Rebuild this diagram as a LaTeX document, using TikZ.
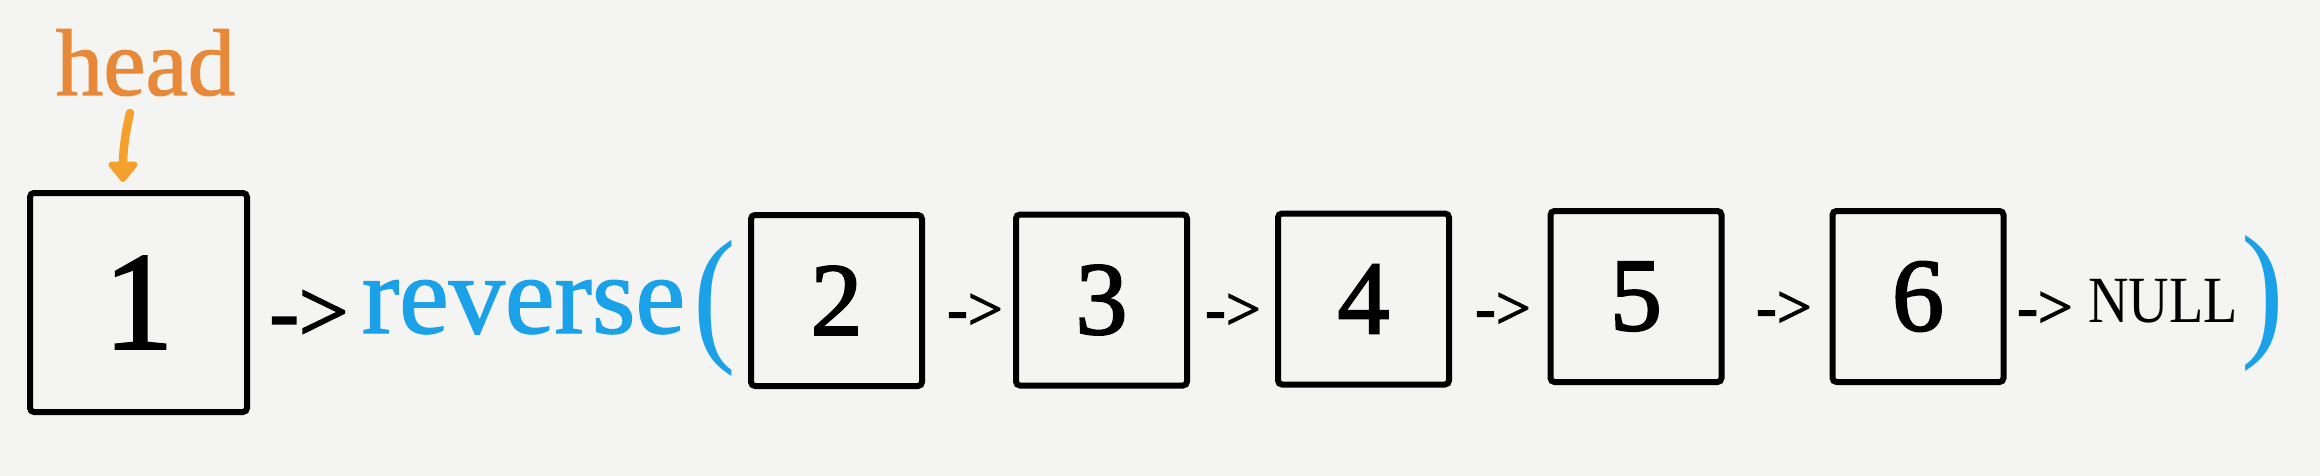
\documentclass[tikz,border=0pt]{standalone}
\usepackage{fontspec}
\setmainfont{Liberation Serif}
\newfontfamily\medserif{Liberation Serif}[FakeBold=2]
\newfontfamily\lightmed{Liberation Serif}[FakeBold=1.2]
\usetikzlibrary{arrows.meta}
\definecolor{bg}{HTML}{F4F4F2}
\definecolor{headc}{HTML}{E8893A}
\definecolor{arrc}{HTML}{F4A02C}
\definecolor{blu}{HTML}{1AA1E8}
\newcommand{\fsz}[1]{\fontsize{#1}{#1}\selectfont}
\begin{document}
\begin{tikzpicture}[x=1pt,y=-1pt,
  cell/.style={draw=black, line width=6pt, rounded corners=4pt, inner sep=0pt,
    minimum width=171pt, minimum height=171pt, font=\medserif\fsz{104}},
  bigcell/.style={cell, minimum width=217pt, minimum height=219pt, font=\medserif\fsz{139}},
  link/.style={inner sep=0pt, font=\medserif\fsz{62}},
  biglink/.style={inner sep=0pt, font=\medserif\fsz{88}},
  paren/.style={inner sep=0pt, text=blu, font=\fsz{150}, xscale=0.85}]
\fill[bg] (0,0) rectangle (2320,476);
\useasboundingbox (0,0) rectangle (2320,476);

\node[text=headc, font=\lightmed\fsz{95}, anchor=base, inner sep=0pt] (head) at (145.5,95) {head};
\node[bigcell] (n1) at (138.5,302.5) {1};
\draw[arrc, line width=8.5pt, line cap=round, -{Triangle[width=34pt,length=22pt,round]}]
  ([xshift=-15.5pt,yshift=-18pt]head.base) .. controls +(-6,25) and +(0,-25) .. ([xshift=-15.5pt,yshift=8pt]n1.north);

\node[biglink] (l1) at (309,316) {->};
\node[text=blu, font=\lightmed\fsz{112}, anchor=base, inner sep=0pt] (rev) at (523.5,333) {reverse};
\node[paren] (lp) at (715,308) {(};

\node[cell] (n2) at (836.5,300.5) {2};
\node[link] (l2) at (975,312) {->};
\node[cell] (n3) at (1101.5,300) {3};
\node[link] (l3) at (1233,312) {->};
\node[cell] (n4) at (1363.5,299) {4};
\node[link] (l4) at (1503,311) {->};
\node[cell] (n5) at (1636,296.5) {5};
\node[link] (l5) at (1784,310) {->};
\node[cell] (n6) at (1918,296.5) {6};
\node[link] (l6) at (2045,310) {->};
\node[inner sep=0pt, font=\fsz{66}, xscale=0.85, anchor=base] (null) at (2163,322) {NULL};
\node[paren] (rp) at (2263,303) {)};
\end{tikzpicture}
\end{document}
